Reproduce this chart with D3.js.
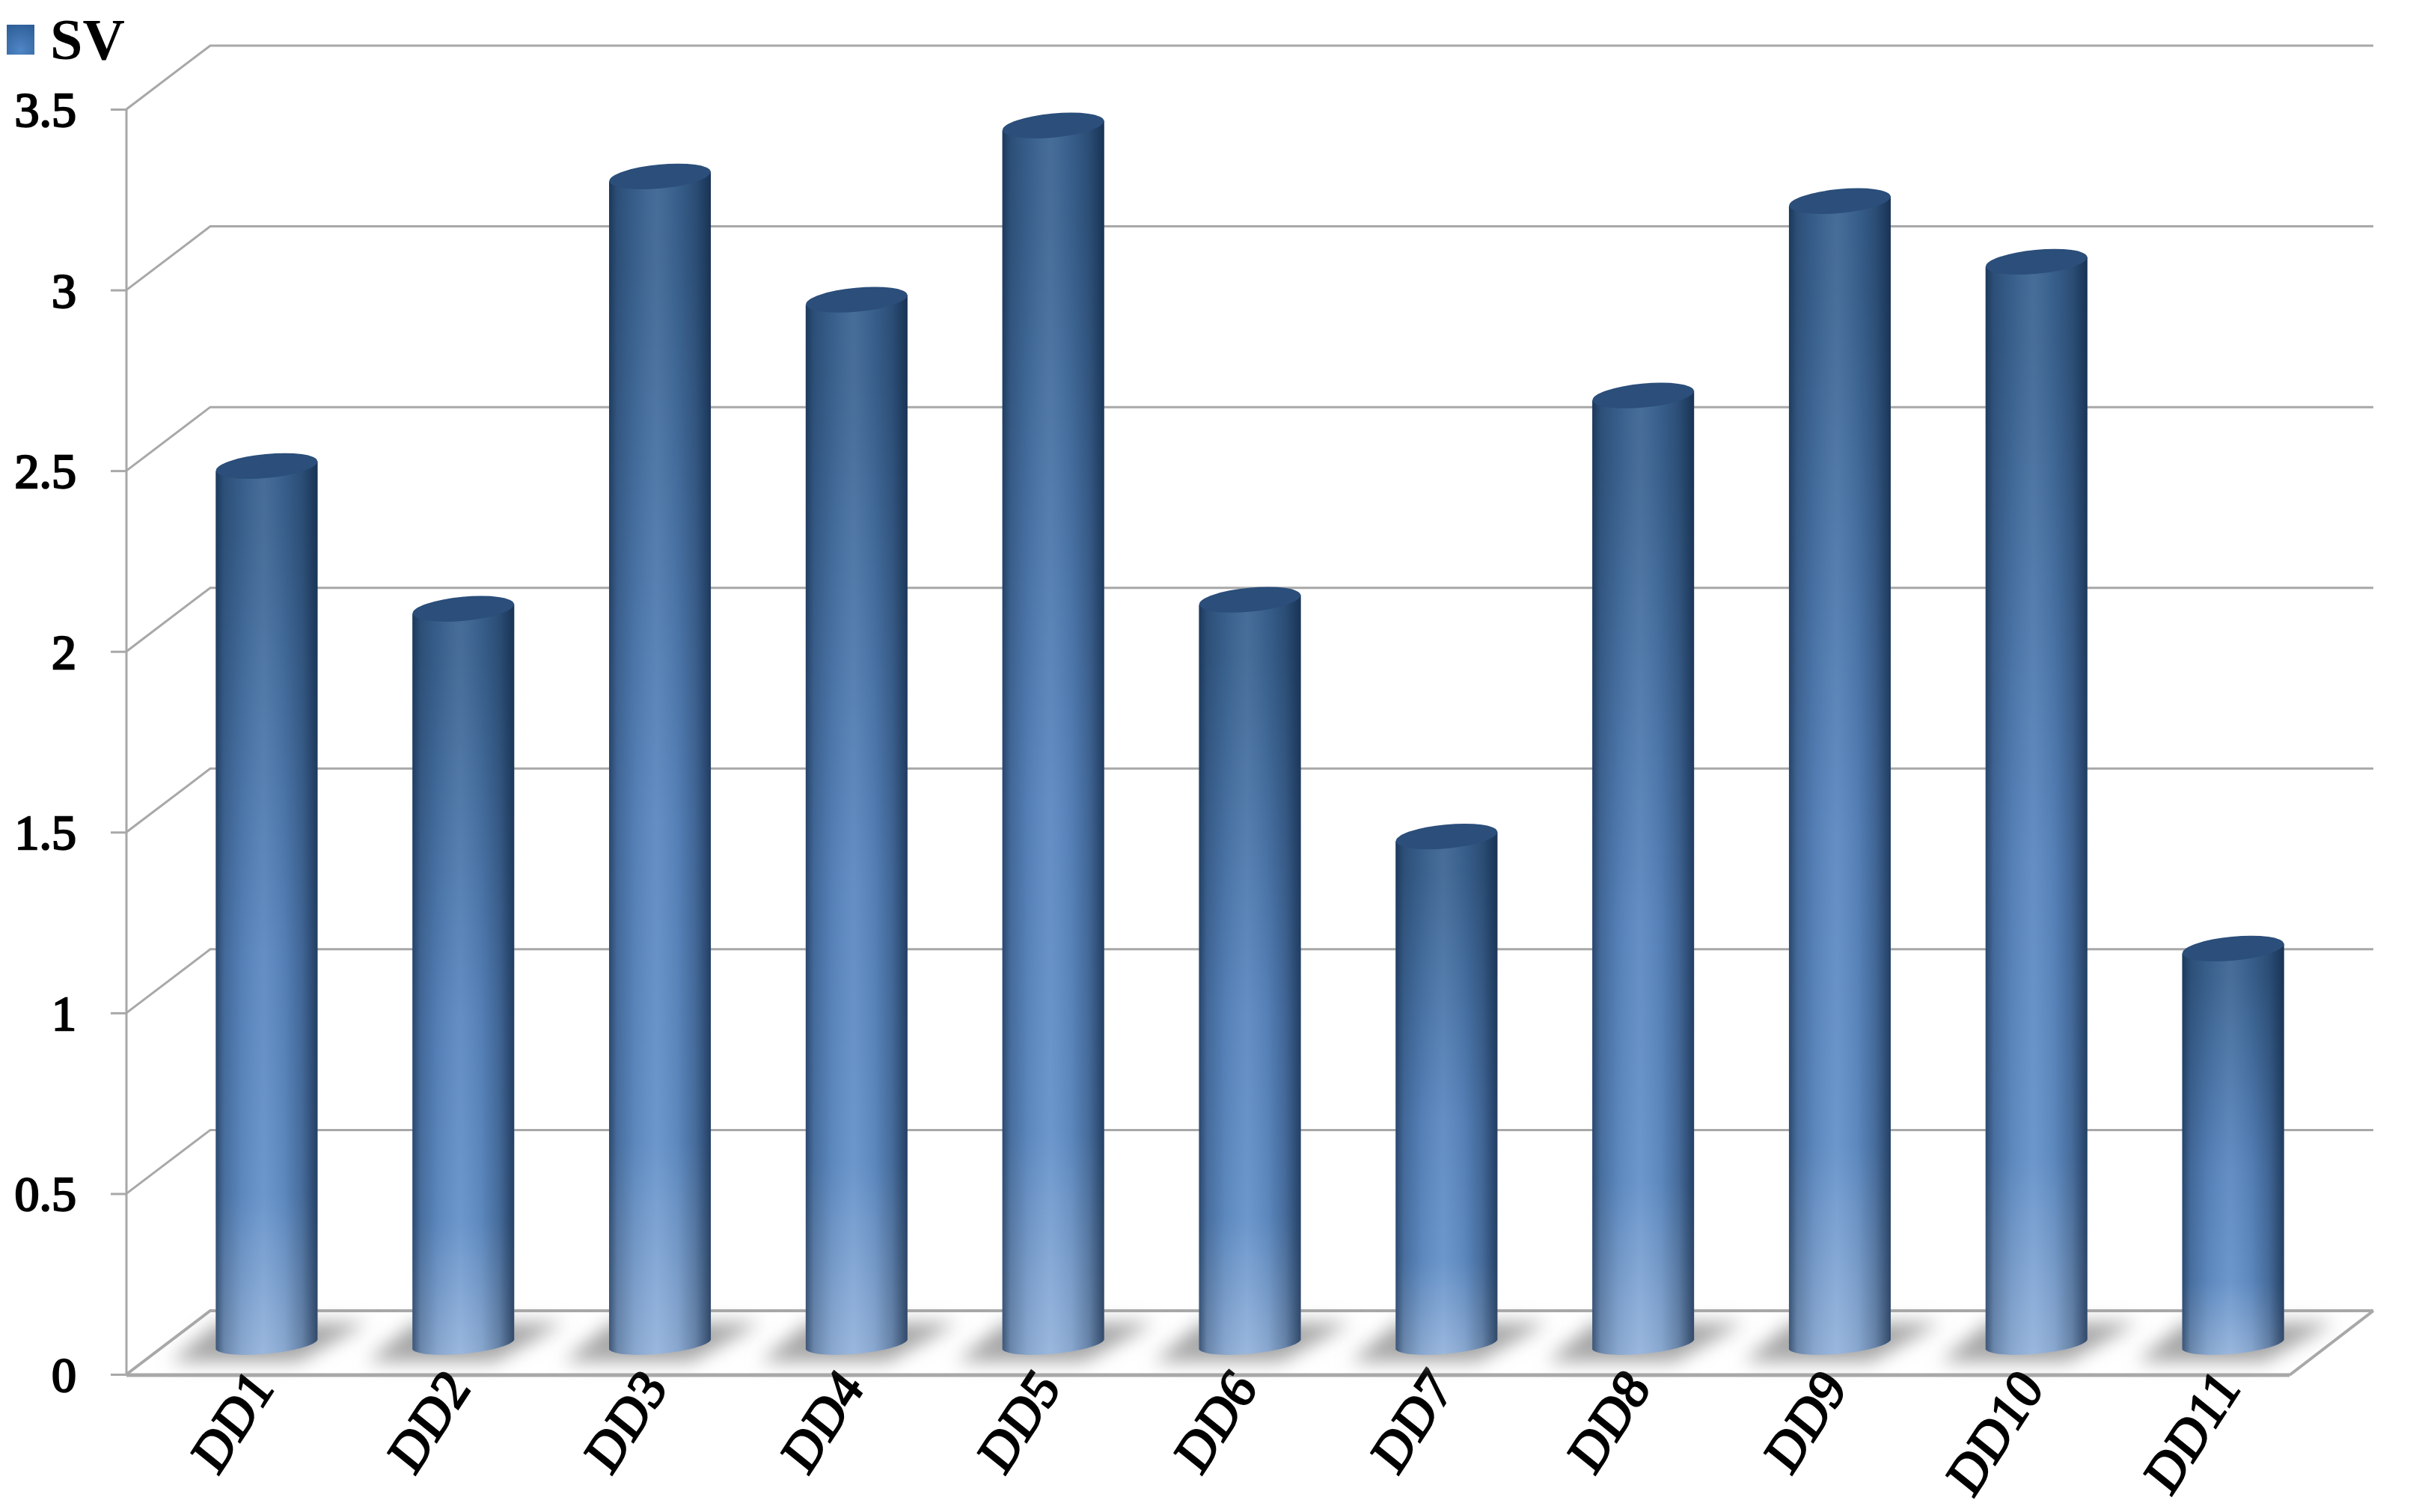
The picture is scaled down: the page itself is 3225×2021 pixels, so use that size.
<!DOCTYPE html>
<html><head><meta charset="utf-8">
<style>html,body{margin:0;padding:0;background:#fff}svg{display:block}
text{font-family:"Liberation Serif",serif;font-weight:700;fill:#000}</style>
<script src="https://cdn.jsdelivr.net/npm/d3@7"></script></head>
<body><script>
const categories=["DD1","DD2","DD3","DD4","DD5","DD6","DD7","DD8","DD9","DD10","DD11"];
const svValues=[2.425,2.03,3.226,2.885,3.367,2.055,1.40,2.62,3.158,2.99,1.09];
const yTicks=[0,0.5,1,1.5,2,2.5,3,3.5];
const W=3225,H=2021;
const plotLeft=169,plotRight=3060,plotBottom=1837,plotTop=146,depthX=112,depthY=85;
const svg=d3.select("body").append("svg").attr("width",W).attr("height",H).attr("viewBox",[0,0,W,H]);
const y=d3.scaleLinear().domain([0,3.5]).range([plotBottom,plotTop]);
const x=d3.scaleBand().domain(categories).range([plotLeft,plotRight]);
const defs=svg.append("defs");
const vg=defs.append("linearGradient").attr("id","vg").attr("x1",0).attr("x2",0).attr("y1",0).attr("y2",1);
[[0,"#3a6391"],[0.08,"#3c6592"],[0.55,"#5a87c0"],[0.82,"#6290c8"],[1,"#94b3db"]].forEach(([o,c])=>vg.append("stop").attr("offset",o).attr("stop-color",c));
const hg=defs.append("linearGradient").attr("id","hg");
[[0,"#0a1e3a",0.62],[0.08,"#0a1e3a",0.3],[0.25,"#0a1e3a",0.08],[0.47,"#ffffff",0.06],[0.68,"#0a1e3a",0.08],[0.85,"#0a1e3a",0.32],[1,"#0a1e3a",0.7]].forEach(([o,c,a])=>hg.append("stop").attr("offset",o).attr("stop-color",c).attr("stop-opacity",a));
const lg=defs.append("radialGradient").attr("id","lg").attr("cy",0.85).attr("r",0.9);
lg.append("stop").attr("offset",0).attr("stop-color","#4f86c6");lg.append("stop").attr("offset",1).attr("stop-color","#2f5f98");
const blur=defs.append("filter").attr("id","blur").attr("x","-30%").attr("y","-60%").attr("width","160%").attr("height","220%");
blur.append("feGaussianBlur").attr("stdDeviation",12);
const gridColor="#a8a8a8";
const grid=svg.append("g").attr("fill","none").attr("stroke",gridColor);
grid.selectAll("path.wall").data(yTicks).join("path").attr("class","wall").attr("stroke-width",v=>v===0?4:3)
 .attr("d",v=>{const yy=y(v);return `M${plotLeft},${yy}L${plotLeft+depthX},${yy-depthY}L${plotRight+depthX},${yy-depthY}`;});
grid.append("path").attr("stroke-width",4).attr("d",`M${plotRight},${plotBottom+1}L${plotRight+depthX},${plotBottom-depthY}`);
const axisY=d3.axisLeft(y).tickValues(yTicks).tickSize(21).tickPadding(46).tickFormat(d3.format("~g"));
const gy=svg.append("g").attr("transform",`translate(${plotLeft},0)`).call(axisY);
gy.select(".domain").attr("stroke",gridColor).attr("stroke-width",3).attr("d",`M0,${plotTop}V${plotBottom}`);
gy.selectAll("line").attr("stroke",gridColor).attr("stroke-width",3);
const styleLabel=(s,size)=>s.attr("font-size",size).style("font-family",'"Liberation Serif",serif').style("font-weight",400).style("stroke","#000").style("stroke-width",2.4);
gy.selectAll("text").attr("dy","0.34em").call(styleLabel,66);
const axisX=d3.axisBottom(x).tickSize(0).tickPadding(0);
const gx=svg.append("g").attr("transform",`translate(0,${plotBottom+1})`).call(axisX);
gx.select(".domain").attr("stroke",gridColor).attr("stroke-width",5).attr("d",`M${plotLeft},0H${plotRight}`);
gx.selectAll("text").attr("text-anchor","end").attr("dy",0).attr("y",0)
 .attr("transform","translate(67,18) rotate(-57) skewX(-6)").call(styleLabel,72);
const midX=depthX/2,midY=depthY/2;
const bw=136,a=bw/2+1,tilt=-5.4,ry=14,dy=6.5,baseDrop=3;
const cx=d=>x(d)+x.bandwidth()/2+midX;
const line=d3.line();
const shadows=svg.append("g").attr("fill","#a6a6a6");
shadows.selectAll("path").data(categories).join("path").attr("filter","url(#blur)")
 .attr("d",d=>{const c=cx(d);return line([[c-128,plotBottom-17],[c+42,plotBottom-17],[c+135,plotBottom-69],[c-65,plotBottom-69]])+"Z";});
const bars=svg.append("g").selectAll("g").data(categories.map((c,i)=>({c,v:svValues[i]}))).join("g");
const body=d=>{const c=cx(d.c),t=y(d.v)-midY,b=y(0)-midY+baseDrop;
 return `M${c-bw/2},${t+dy}L${c+bw/2},${t-dy}L${c+bw/2},${b-dy}A${a},${ry} ${tilt} 0 1 ${c-bw/2},${b+dy}Z`;};
bars.append("path").attr("d",body).attr("fill","url(#vg)");
bars.append("path").attr("d",body).attr("fill","url(#hg)");
bars.append("ellipse").attr("rx",a-1).attr("ry",ry+2).attr("fill","#2b4e7a")
 .attr("transform",d=>`translate(${cx(d.c)},${y(d.v)-midY}) rotate(${tilt})`);
svg.append("rect").attr("x",9).attr("y",33).attr("width",37).attr("height",40).attr("fill","url(#lg)");
svg.append("text").attr("x",67).attr("y",79).attr("font-size",78).text("SV");
</script></body></html>
